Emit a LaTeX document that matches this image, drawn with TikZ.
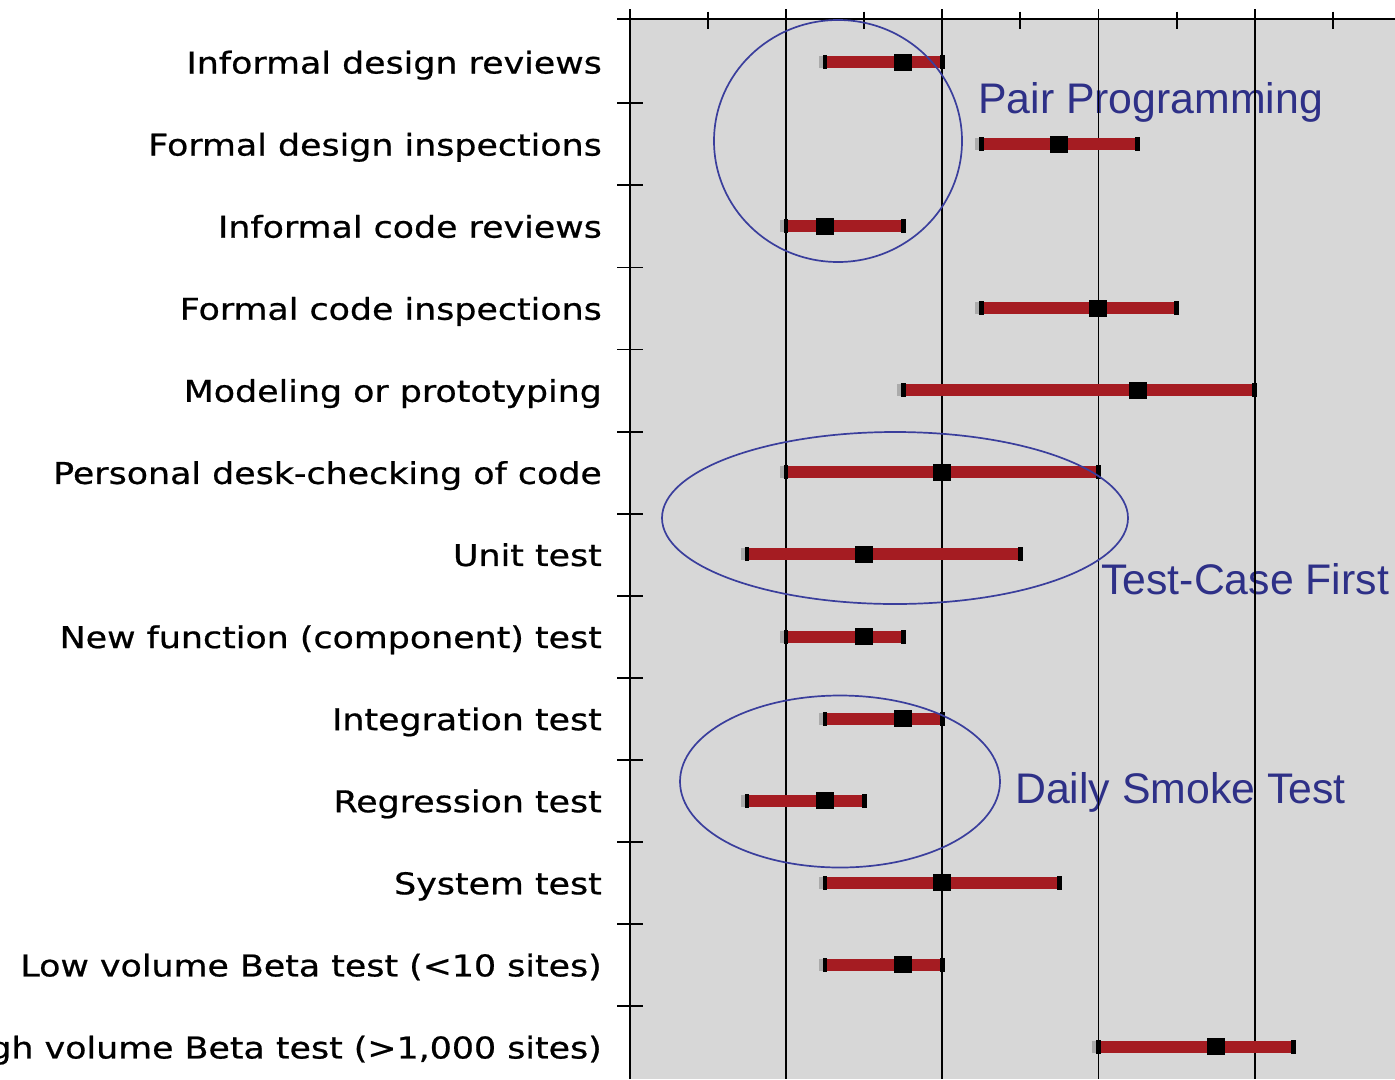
\documentclass[tikz,border=0pt]{standalone}
\usepackage{fontspec}
\setmainfont{Liberation Sans}
\newfontfamily\labfont[FakeStretch=1.16,FakeBold=0.7]{DejaVu Sans}
\definecolor{plotbg}{HTML}{D7D7D7}
\definecolor{barred}{HTML}{A51C22}
\definecolor{navy}{HTML}{2E3087}
\definecolor{ringblue}{HTML}{3A3E9C}
\definecolor{capgray}{HTML}{ABABAB}
\begin{document}
\begin{tikzpicture}[x=1bp,y=-1bp,
  rowlabel/.style={anchor=base east, inner sep=0pt, font=\labfont\fontsize{30bp}{36bp}\selectfont},
  note/.style={anchor=base west, inner sep=0pt, text=navy, font=\fontsize{42.8bp}{50bp}\selectfont},
  gridline/.style={line width=1.9bp},
  axisline/.style={line width=2.3bp},
  ring/.style={draw=ringblue, line width=1.7bp},
  errline/.style={draw=barred, line width=12bp},
  endcap/.style={rectangle, fill=black, inner sep=0pt, minimum width=4.5bp, minimum height=14bp},
  shadowcap/.style={rectangle, fill=capgray, inner sep=0pt, minimum width=4bp, minimum height=12bp},
  median/.style={rectangle, fill=black, inner sep=0pt, minimum width=18bp, minimum height=17bp},
  ]
\clip (0,0) rectangle (1395,1079);
% plot background
\fill[plotbg] (630,19) rectangle (1395,1079);
% row labels
\foreach \r/\t in {0/{Informal design reviews},1/{Formal design inspections},2/{Informal code reviews},3/{Formal code inspections},4/{Modeling or prototyping},5/{Personal desk-checking of code},6/{Unit test},7/{New function (component) test},8/{Integration test},9/{Regression test},10/{System test},11/{Low volume Beta test (<10 sites)},12/{High volume Beta test (>1,000 sites)}}{
  \pgfmathsetmacro\yy{62+82.08*\r+11.5}
  \node[rowlabel] (lab\r) at (602,\yy) {\t};
}
% annotations
\node[note] (pp) at (978,113) {Pair Programming};
\node[note] (tcf) at (1101,594) {Test-Case First};
\node[note] (dst) at (1015,803) {Daily Smoke Test};
% grid and axes
\foreach \k in {2,4,6,8}{
  \pgfmathsetmacro\xx{630+78.08*\k}
  \draw[gridline] (\xx,9) -- (\xx,1079);
}
\foreach \k in {1,3,5,7,9}{
  \pgfmathsetmacro\xx{630+78.08*\k}
  \draw[gridline] (\xx,11.5) -- (\xx,29);
}
\draw[axisline] (630,9) -- (630,1079);
\draw[axisline] (617,19) -- (1395,19);
\foreach \k in {0,...,11}{
  \pgfmathsetmacro\yy{103.3+82.08*\k}
  \draw[gridline] (617,\yy) -- (643,\yy);
}
% bars
\foreach \r/\l/\m/\h in {0/2.5/3.5/4,1/4.5/5.5/6.5,2/2/2.5/3.5,3/4.5/6/7,4/3.5/6.5/8,5/2/4/6,6/1.5/3/5,7/2/3/3.5,8/2.5/3.5/4,9/1.5/2.5/3,10/2.5/4/5.5,11/2.5/3.5/4,12/6/7.5/8.5}{
  \pgfmathsetmacro\yy{62+82.08*\r}
  \pgfmathsetmacro\xl{630+78.08*\l}
  \pgfmathsetmacro\xm{630+78.08*\m}
  \pgfmathsetmacro\xr{630+78.08*\h}
  \coordinate (lo\r) at (\xl,\yy);
  \coordinate (hi\r) at (\xr,\yy);
  \node[shadowcap] (sh\r) at ([xshift=-4bp]lo\r) {};
  \draw[errline] (lo\r) -- (hi\r);
  \node[endcap] (lc\r) at (lo\r) {};
  \node[endcap] (rc\r) at (hi\r) {};
  \node[median] (md\r) at (\xm,\yy) {};
}
% rings
\draw[ring] (838,141) ellipse [x radius=124, y radius=121];
\draw[ring] (895,518) ellipse [x radius=233, y radius=86];
\draw[ring] (840,781.5) ellipse [x radius=160, y radius=86];
\end{tikzpicture}
\end{document}
